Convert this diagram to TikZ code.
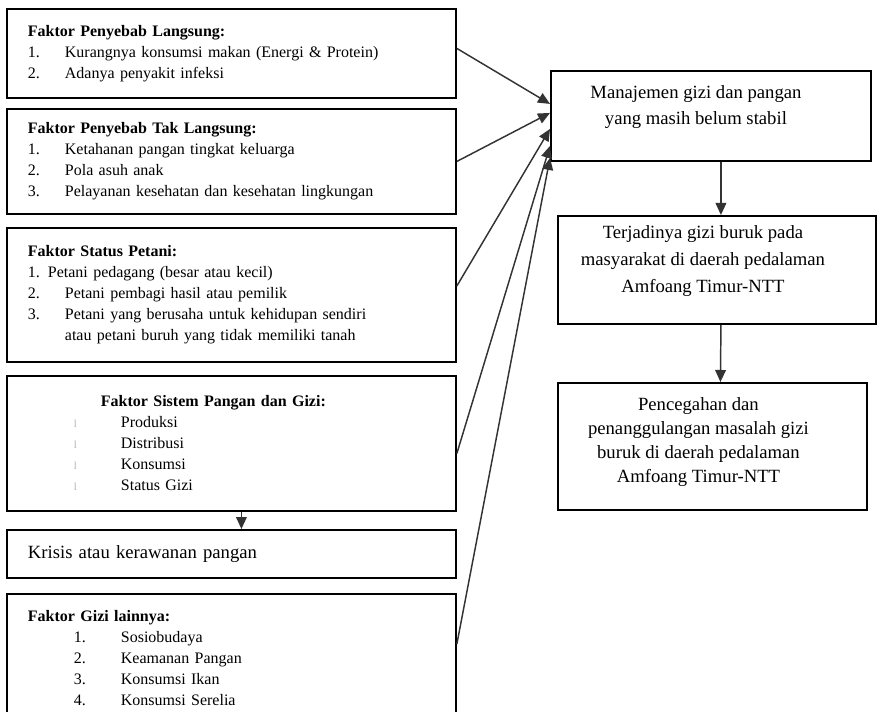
\documentclass[tikz,border=0pt]{standalone}
\usepackage{fontspec}
\setmainfont{Liberation Serif}
\usetikzlibrary{arrows.meta}

\newlength{\upx}
\setlength{\upx}{0.75pt}
\newcommand{\itemno}[1]{\makebox[37\upx][l]{#1}}
\newcommand{\subno}[1]{\hspace*{46\upx}\makebox[47\upx][l]{#1}}
\newcommand{\lostmark}{\textcolor{black!30}{\footnotesize l}}

\tikzset{
	factor/.style={draw, line width=1.4pt, rectangle, anchor=north west,
		text width=407\upx, inner xsep=21\upx, inner ysep=0pt, align=left,
		font=\fontsize{12}{15.75}\selectfont},
	outcome/.style={draw, line width=1.4pt, rectangle, anchor=north west},
	outtext/.style={align=center, inner sep=0pt},
	link/.style={draw=black!80, line width=1.1pt, -{Triangle[length=9pt,width=8pt]}}
}

\begin{document}
\begin{tikzpicture}[x=0.75pt,y=-0.75pt]
	\useasboundingbox (0,0) rectangle (880,712);

	% faktor-faktor di sebelah kiri
	\node[factor, minimum height=89\upx] (direct) at (6,8) {\textbf{Faktor Penyebab Langsung:}\\
		\itemno{1.}Kurangnya konsumsi makan (Energi \& Protein)\\
		\itemno{2.}Adanya penyakit infeksi};
	\node[factor, minimum height=105\upx] (indirect) at (6,108) {\textbf{Faktor Penyebab Tak Langsung:}\\
		\itemno{1.}Ketahanan pangan tingkat keluarga\\
		\itemno{2.}Pola asuh anak\\
		\itemno{3.}Pelayanan kesehatan dan kesehatan lingkungan};
	\node[factor, minimum height=134\upx] (farmer) at (6,227) {\textbf{Faktor Status Petani:}\\
		1. Petani pedagang (besar atau kecil)\\
		\itemno{2.}Petani pembagi hasil atau pemilik\\
		\itemno{3.}Petani yang berusaha untuk kehidupan sendiri\\
		\itemno{}atau petani buruh yang tidak memiliki tanah};
	\node[factor, minimum height=135\upx] (system) at (6,375) {\hspace*{73\upx}\textbf{Faktor Sistem Pangan dan Gizi:}\\
		\subno{\lostmark}Produksi\\
		\subno{\lostmark}Distribusi\\
		\subno{\lostmark}Konsumsi\\
		\subno{\lostmark}Status Gizi};
	\node[factor, minimum height=48\upx, font=\fontsize{14}{17}\selectfont] (crisis) at (6,529) {Krisis atau kerawanan pangan};
	\node[factor, minimum height=128\upx] (other) at (6,593) {\textbf{Faktor Gizi lainnya:}\\
		\subno{1.}Sosiobudaya\\
		\subno{2.}Keamanan Pangan\\
		\subno{3.}Konsumsi Ikan\\
		\subno{4.}Konsumsi Serelia};

	% kotak-kotak di sebelah kanan
	\node[outcome, minimum width=320\upx, minimum height=90\upx] (manage) at (550,70) {};
	\node[outcome, minimum width=318\upx, minimum height=108\upx] (occur) at (557,215) {};
	\node[outcome, minimum width=309\upx, minimum height=127\upx] (prevent) at (557,382) {};

	\node[outtext, font=\fontsize{14}{20}\selectfont] (manage-txt) at ([shift={(-15,-9)}]manage.center) {Manajemen gizi dan pangan\\yang masih belum stabil};
	\node[outtext, font=\fontsize{14}{20}\selectfont] (occur-txt) at ([shift={(-14,-9)}]occur.center) {Terjadinya gizi buruk pada\\masyarakat di daerah pedalaman\\Amfoang Timur-NTT};
	\node[outtext, font=\fontsize{14}{18}\selectfont] (prevent-txt) at ([shift={(-14,-4)}]prevent.center) {Pencegahan dan\\penanggulangan masalah gizi\\buruk di daerah pedalaman\\Amfoang Timur-NTT};

	% panah
	\draw[link] ([shift={(0,-5)}]direct.east) -- ([shift={(0,-12)}]manage.west);
	\draw[link] (indirect.east) -- ([shift={(0,-3)}]manage.west);
	\draw[link] ([shift={(0,-9)}]farmer.east) -- ([shift={(0,13)}]manage.west);
	\draw[link] ([shift={(0,10)}]system.east) -- ([shift={(0,30)}]manage.west);
	\draw[link] ([shift={(0,-14)}]other.east) -- ([shift={(0,42)}]manage.west);

	\draw[link] ([shift={(10,0)}]system.south) -- ([shift={(10,0)}]crisis.north);
	\draw[link] ([shift={(10,0)}]manage.south) -- ([shift={(4,0)}]occur.north);
	\draw[link] ([shift={(4,0)}]occur.south) -- ([shift={(8,0)}]prevent.north);
\end{tikzpicture}
\end{document}
